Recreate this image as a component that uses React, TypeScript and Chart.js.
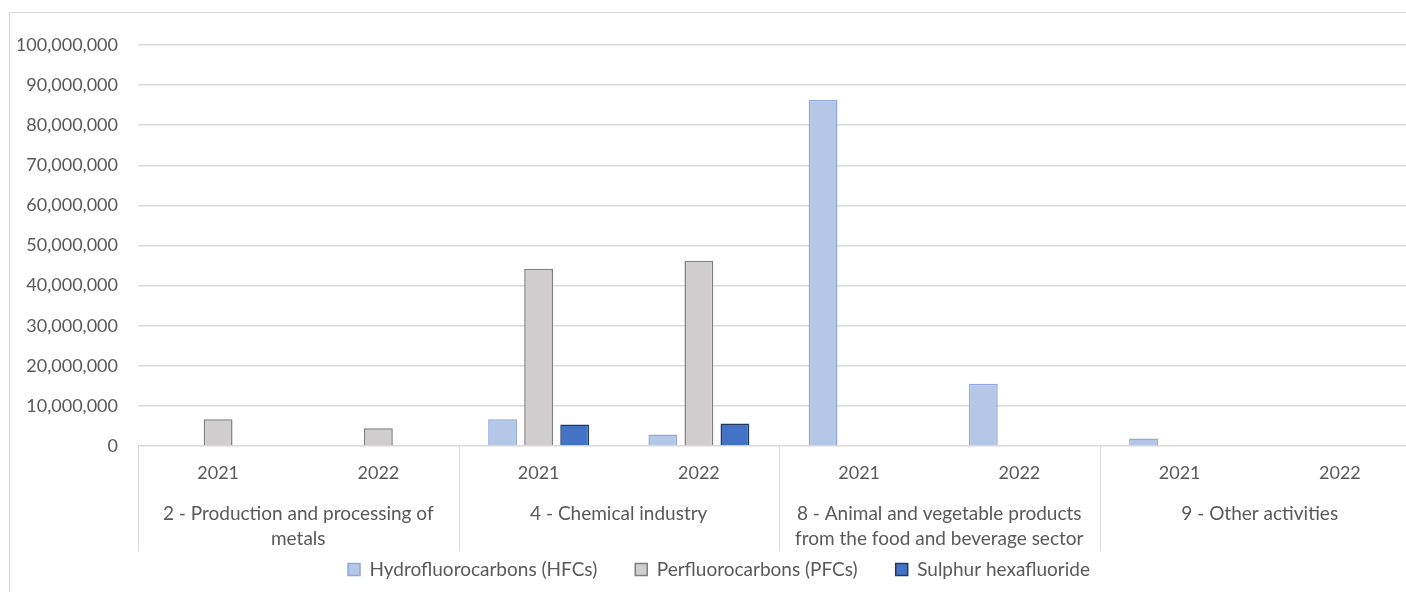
import React, { useEffect, useRef } from "react";
import { Chart, registerables } from "chart.js";

Chart.register(...registerables);

const groups: string[][] = [
  ["2 - Production and processing of", "metals"],
  ["4 - Chemical industry"],
  ["8 - Animal and vegetable products", "from the food and beverage sector"],
  ["9 - Other activities"],
];
const years = ["2021", "2022"];
const categories = groups.flatMap(() => years);

const hfcValues = [null, null, 6700000, 2850000, 86300000, 15500000, 1900000, null];
const pfcValues = [6700000, 4400000, 44200000, 46200000, null, null, null, null];
const sf6Values = [null, null, 5350000, 5600000, null, null, null, null];

const seriesNames = ["Hydrofluorocarbons (HFCs)", "Perfluorocarbons (PFCs)", "Sulphur hexafluoride"];
const yTicks = { min: 0, max: 100000000, step: 10000000 };

const FONT = "Lato, 'Open Sans', sans-serif";
const TEXT = "#595959";
const GRID = "#d9d9d9";

const groupPlugin = {
  id: "groupLabels",
  afterDraw(chart: any) {
    const { ctx, chartArea, scales } = chart;
    const x = scales.x;
    const per = years.length;
    ctx.save();
    ctx.strokeStyle = GRID;
    ctx.lineWidth = 1;
    ctx.fillStyle = TEXT;
    ctx.font = `19px ${FONT}`;
    ctx.textAlign = "center";
    ctx.textBaseline = "middle";
    const catW = (chartArea.right - chartArea.left) / categories.length;
    groups.forEach((lines, gi) => {
      const left = x.getPixelForValue(gi * per) - catW / 2;
      const right = x.getPixelForValue(gi * per + per - 1) + catW / 2;
      ctx.beginPath();
      ctx.moveTo(Math.round(left) + 0.5, chartArea.bottom);
      ctx.lineTo(Math.round(left) + 0.5, chartArea.bottom + 105);
      ctx.stroke();
      const cx = (left + right) / 2;
      lines.forEach((ln, li) => {
        ctx.fillText(ln, cx, chartArea.bottom + 68 + li * 25);
      });
    });
    ctx.restore();
  },
};

export default function App() {
  const ref = useRef<HTMLCanvasElement>(null);
  useEffect(() => {
    if (!ref.current) return;
    const chart = new Chart(ref.current, {
      type: "bar",
      data: {
        labels: categories,
        datasets: [
          {
            label: seriesNames[0],
            data: hfcValues,
            backgroundColor: "#b4c7e7",
            borderColor: "#8faadc",
            borderWidth: 1.5,
          },
          {
            label: seriesNames[1],
            data: pfcValues,
            backgroundColor: "#d0cece",
            borderColor: "#7f7f7f",
            borderWidth: 1.5,
          },
          {
            label: seriesNames[2],
            data: sf6Values,
            backgroundColor: "#4472c4",
            borderColor: "#203864",
            borderWidth: 1.5,
          },
        ],
      },
      options: {
        animation: false,
        responsive: false,
        maintainAspectRatio: false,
        layout: { padding: { top: 45, left: 18, right: 2, bottom: 3 } },
        datasets: { bar: { categoryPercentage: 0.675, barPercentage: 0.8 } },
        plugins: {
          legend: {
            position: "bottom",
            labels: {
              color: TEXT,
              font: { family: FONT, size: 19 },
              boxWidth: 12,
              boxHeight: 12,
              padding: 38,
            },
          },
          tooltip: { enabled: false },
        },
        scales: {
          x: {
            grid: { display: false, drawTicks: false },
            border: { display: false },
            ticks: {
              color: TEXT,
              font: { family: FONT, size: 18 },
              padding: 16,
              autoSkip: false,
              maxRotation: 0,
            },
            afterFit(s: any) {
              s.height = 76;
            },
          },
          y: {
            min: yTicks.min,
            max: yTicks.max,
            grid: { color: GRID, lineWidth: 1.5, drawTicks: false },
            border: { display: false },
            ticks: {
              stepSize: yTicks.step,
              color: TEXT,
              font: { family: FONT, size: 18 },
              padding: 20,
              callback: (v: any) => Number(v).toLocaleString("en-US"),
            },
            afterFit(s: any) {
              s.width = 120;
            },
          },
        },
      },
      plugins: [groupPlugin],
    });
    return () => chart.destroy();
  }, []);
  return (
    <div
      style={{
        position: "fixed",
        left: 0,
        top: 0,
        width: 1406,
        height: 592,
        overflow: "hidden",
        background: "#fff",
      }}
    >
      <div
        style={{
          position: "absolute",
          left: 9,
          top: 12,
          width: 1500,
          height: 700,
          border: "1px solid #d9d9d9",
        }}
      />
      <canvas ref={ref} width={1422} height={592} style={{ position: "absolute", left: 0, top: 0 }} />
    </div>
  );
}
